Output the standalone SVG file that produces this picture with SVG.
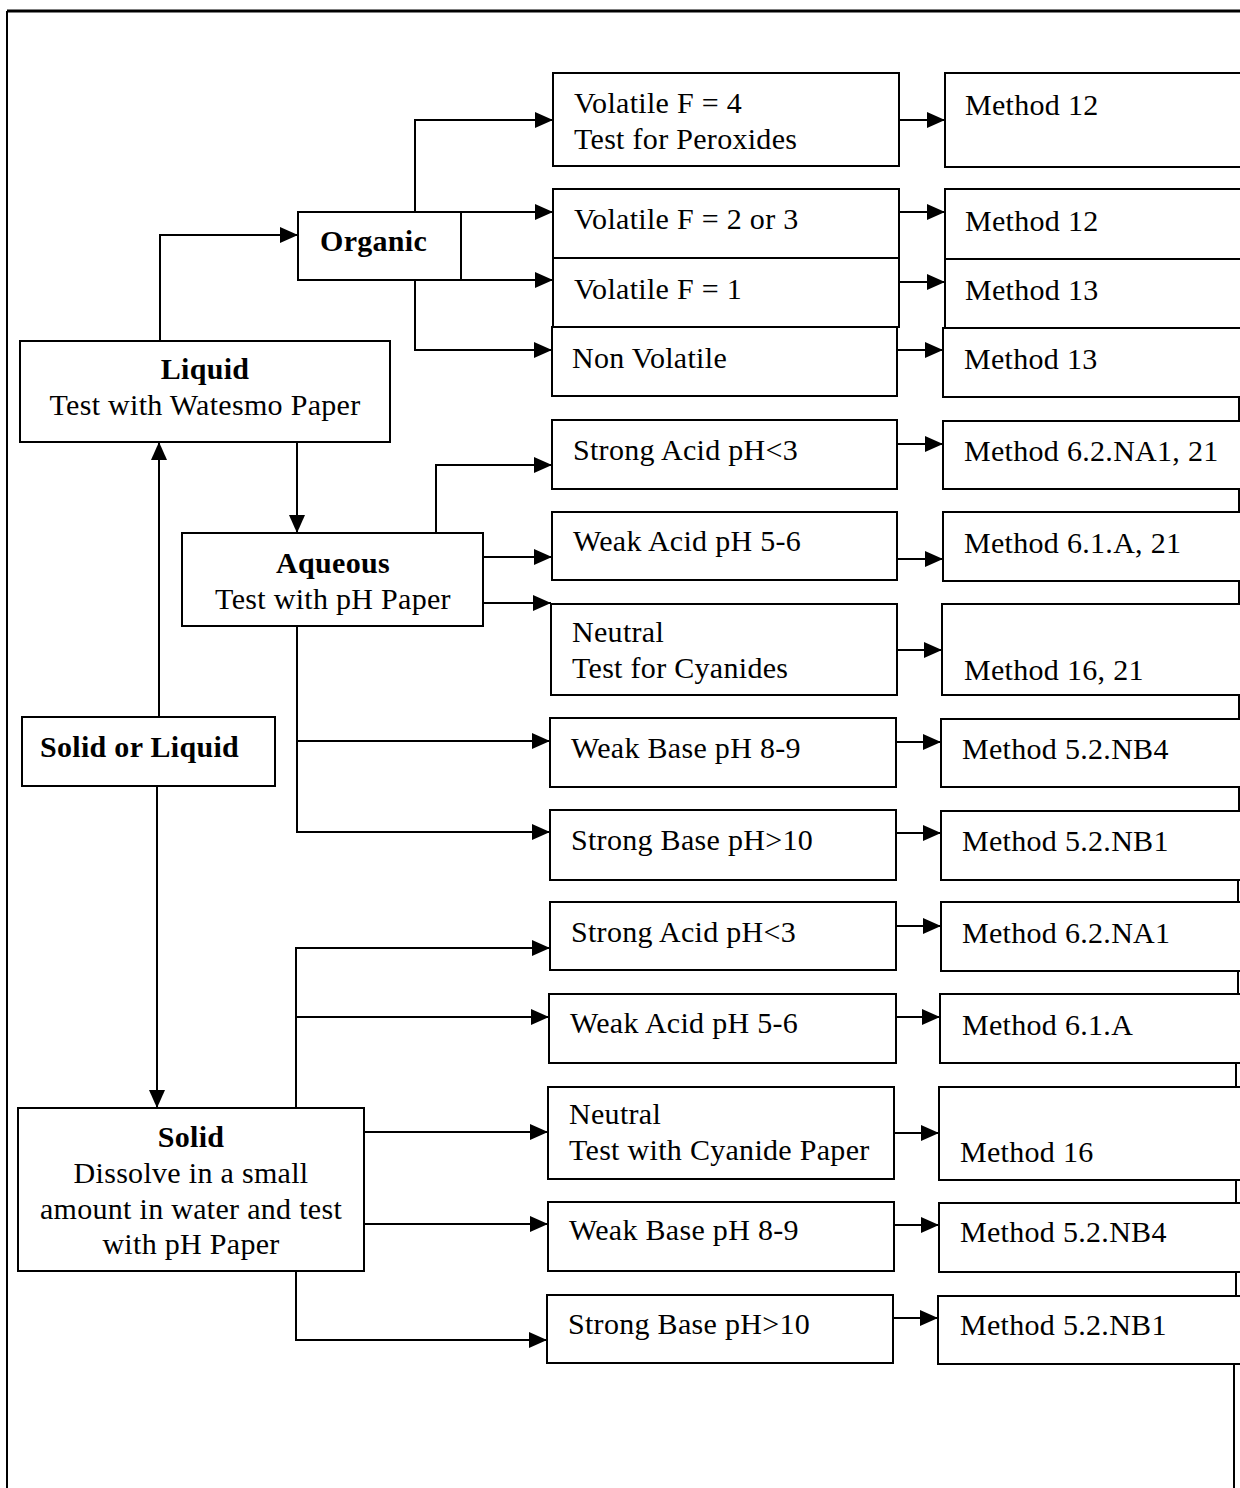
<svg xmlns="http://www.w3.org/2000/svg" width="1240" height="1488" viewBox="0 0 1240 1488">
<defs>
<marker id="ah" markerUnits="userSpaceOnUse" markerWidth="18" markerHeight="16" refX="18" refY="8" orient="auto">
<path d="M0,0 L18,8 L0,16 z" fill="#000"/>
</marker>
<style>
rect{fill:#fff;stroke:#000;stroke-width:2}
text{font-family:"Liberation Serif","Times New Roman",serif;font-size:30px;letter-spacing:0.3px;fill:#000}
.b{font-weight:bold}
.c{text-anchor:middle}
.ln{fill:none;stroke:#000;stroke-width:2}
.ar{fill:none;stroke:#000;stroke-width:2;marker-end:url(#ah)}
</style>
</defs>
<rect x="0" y="0" width="1240" height="1488" style="fill:#fff;stroke:none"/>
<g id="frame">
<path class="ln" d="M7,11 H1240" style="stroke-width:3"/>
<path class="ln" d="M7,11 V1488"/>
<path class="ln" d="M1239,397 V421 M1239,489 V512 M1239,581 V604 M1239,695 V719 M1239,787 V811 M1238,880 V903 M1238,971 V994 M1236,1063 V1087 M1236,1180 V1203 M1236,1272 V1296 M1234,1364 V1488"/>
</g>
<g id="connectors">
<path class="ar" d="M415,212 V120 H553"/>
<path class="ar" d="M461,212 H553"/>
<path class="ar" d="M461,280 H553"/>
<path class="ar" d="M415,280 V350 H552"/>
<path class="ar" d="M899,120 H945"/>
<path class="ar" d="M899,212 H945"/>
<path class="ar" d="M899,282 H945"/>
<path class="ar" d="M897,350 H943"/>
<path class="ar" d="M160,341 V235 H298"/>
<path class="ar" d="M297,442 V533"/>
<path class="ar" d="M436,533 V465 H552"/>
<path class="ar" d="M483,557 H552"/>
<path class="ar" d="M483,603 H551"/>
<path class="ar" d="M297,626 V832 H550"/>
<path class="ar" d="M297,741 H550"/>
<path class="ar" d="M897,444 H943"/>
<path class="ar" d="M897,559 H943"/>
<path class="ar" d="M897,650 H942"/>
<path class="ar" d="M896,742 H941"/>
<path class="ar" d="M896,833 H941"/>
<path class="ar" d="M159,717 V442"/>
<path class="ar" d="M157,786 V1108"/>
<path class="ar" d="M296,1108 V948 H550"/>
<path class="ar" d="M296,1017 H549"/>
<path class="ar" d="M364,1132 H548"/>
<path class="ar" d="M364,1224 H548"/>
<path class="ar" d="M296,1271 V1340 H547"/>
<path class="ar" d="M896,926 H941"/>
<path class="ar" d="M896,1017 H940"/>
<path class="ar" d="M894,1133 H939"/>
<path class="ar" d="M894,1225 H939"/>
<path class="ar" d="M893,1318 H938"/>
</g>
<g id="liquid"><rect x="20" y="341" width="370" height="101"/><text class="b c" x="205" y="379">Liquid</text><text class="c" x="205" y="415">Test with Watesmo Paper</text></g>
<g id="organic"><rect x="298" y="212" width="163" height="68"/><text class="b" x="320" y="251">Organic</text></g>
<g id="aqueous"><rect x="182" y="533" width="301" height="93"/><text class="b c" x="333" y="573">Aqueous</text><text class="c" x="333" y="609">Test with pH Paper</text></g>
<g id="solid-or-liquid"><rect x="22" y="717" width="253" height="69"/><text class="b" x="40" y="757">Solid or Liquid</text></g>
<g id="solid"><rect x="18" y="1108" width="346" height="163"/><text class="b c" x="191" y="1147">Solid</text><text class="c" x="191" y="1183">Dissolve in a small</text><text class="c" x="191" y="1219">amount in water and test</text><text class="c" x="191" y="1254">with pH Paper</text></g>
<g id="vol4"><rect x="553" y="73" width="346" height="93"/><text x="574" y="113">Volatile F = 4</text><text x="574" y="149">Test for Peroxides</text></g>
<g id="vol23"><rect x="553" y="189" width="346" height="69"/><text x="574" y="229">Volatile F = 2 or 3</text></g>
<g id="vol1"><rect x="553" y="258" width="346" height="69"/><text x="574" y="299">Volatile F = 1</text></g>
<g id="nonvol"><rect x="552" y="327" width="345" height="69"/><text x="572" y="368">Non Volatile</text></g>
<g id="m12a"><rect x="945" y="73" width="310" height="94"/><text x="965" y="115">Method 12</text></g>
<g id="m12b"><rect x="945" y="189" width="310" height="70"/><text x="965" y="231">Method 12</text></g>
<g id="m13a"><rect x="945" y="259" width="310" height="69"/><text x="965" y="300">Method 13</text></g>
<g id="m13b"><rect x="943" y="328" width="312" height="69"/><text x="964" y="369">Method 13</text></g>
<g id="aq-sa"><rect x="552" y="420" width="345" height="69"/><text x="573" y="460">Strong Acid pH&lt;3</text></g>
<g id="aq-wa"><rect x="552" y="512" width="345" height="68"/><text x="573" y="551">Weak Acid pH 5-6</text></g>
<g id="aq-n"><rect x="551" y="604" width="346" height="91"/><text x="572" y="642">Neutral</text><text x="572" y="678">Test for Cyanides</text></g>
<g id="aq-wb"><rect x="550" y="718" width="346" height="69"/><text x="571" y="758">Weak Base pH 8-9</text></g>
<g id="aq-sb"><rect x="550" y="810" width="346" height="70"/><text x="571" y="850">Strong Base pH&gt;10</text></g>
<g id="m-aq-sa"><rect x="943" y="421" width="312" height="68"/><text x="964" y="461">Method 6.2.NA1, 21</text></g>
<g id="m-aq-wa"><rect x="943" y="512" width="312" height="69"/><text x="964" y="553">Method 6.1.A, 21</text></g>
<g id="m-aq-n"><rect x="942" y="604" width="313" height="91"/><text x="964" y="680">Method 16, 21</text></g>
<g id="m-aq-wb"><rect x="941" y="719" width="314" height="68"/><text x="962" y="759">Method 5.2.NB4</text></g>
<g id="m-aq-sb"><rect x="941" y="811" width="314" height="69"/><text x="962" y="851">Method 5.2.NB1</text></g>
<g id="s-sa"><rect x="550" y="902" width="346" height="68"/><text x="571" y="942">Strong Acid pH&lt;3</text></g>
<g id="s-wa"><rect x="549" y="994" width="347" height="69"/><text x="570" y="1033">Weak Acid pH 5-6</text></g>
<g id="s-n"><rect x="548" y="1087" width="346" height="92"/><text x="569" y="1124">Neutral</text><text x="569" y="1160">Test with Cyanide Paper</text></g>
<g id="s-wb"><rect x="548" y="1202" width="346" height="69"/><text x="569" y="1240">Weak Base pH 8-9</text></g>
<g id="s-sb"><rect x="547" y="1295" width="346" height="68"/><text x="568" y="1334">Strong Base pH&gt;10</text></g>
<g id="m-s-sa"><rect x="941" y="902" width="314" height="69"/><text x="962" y="943">Method 6.2.NA1</text></g>
<g id="m-s-wa"><rect x="940" y="994" width="315" height="69"/><text x="962" y="1035">Method 6.1.A</text></g>
<g id="m-s-n"><rect x="939" y="1087" width="316" height="93"/><text x="960" y="1162">Method 16</text></g>
<g id="m-s-wb"><rect x="939" y="1203" width="316" height="69"/><text x="960" y="1242">Method 5.2.NB4</text></g>
<g id="m-s-sb"><rect x="938" y="1296" width="317" height="68"/><text x="960" y="1335">Method 5.2.NB1</text></g>
</svg>
